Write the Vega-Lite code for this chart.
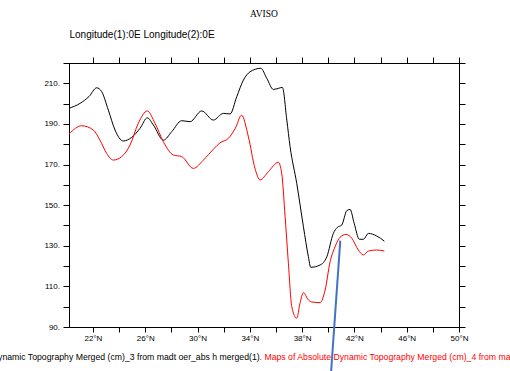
{
  "$schema": "https://vega.github.io/schema/vega-lite/v6.json",
  "width": 390,
  "height": 264,
  "autosize": "none",
  "padding": {"left": 69, "top": 63, "right": 51, "bottom": 44},
  "background": "white",
  "title": {
    "text": "AVISO",
    "font": "Liberation Serif",
    "fontSize": 9.5,
    "fontWeight": "normal",
    "color": "black",
    "anchor": "middle",
    "offset": 11
  },
  "config": {
    "view": {"stroke": "black", "strokeWidth": 1},
    "axis": {
      "grid": false,
      "domainColor": "black",
      "domainWidth": 1,
      "tickColor": "black",
      "tickWidth": 1,
      "labelColor": "black",
      "labelFont": "Liberation Sans",
      "labelFontSize": 8,
      "labelOverlap": false,
      "labelFlush": false,
      "titleColor": "black"
    }
  },
  "datasets": {
    "profiles": [
      {"series": "madt_3", "lat": 20.17, "adt": 197.7},
      {"series": "madt_3", "lat": 21.01, "adt": 200.1},
      {"series": "madt_3", "lat": 21.7, "adt": 203.5},
      {"series": "madt_3", "lat": 22.29, "adt": 207.8},
      {"series": "madt_3", "lat": 22.67, "adt": 205.9},
      {"series": "madt_3", "lat": 23.18, "adt": 196.8},
      {"series": "madt_3", "lat": 23.69, "adt": 187.0},
      {"series": "madt_3", "lat": 24.32, "adt": 181.6},
      {"series": "madt_3", "lat": 24.97, "adt": 183.4},
      {"series": "madt_3", "lat": 25.6, "adt": 187.8},
      {"series": "madt_3", "lat": 26.16, "adt": 193.0},
      {"series": "madt_3", "lat": 26.62, "adt": 189.5},
      {"series": "madt_3", "lat": 27.39, "adt": 182.0},
      {"series": "madt_3", "lat": 28.03, "adt": 186.2},
      {"series": "madt_3", "lat": 28.79, "adt": 191.6},
      {"series": "madt_3", "lat": 29.43, "adt": 191.1},
      {"series": "madt_3", "lat": 30.32, "adt": 196.4},
      {"series": "madt_3", "lat": 31.21, "adt": 191.9},
      {"series": "madt_3", "lat": 31.98, "adt": 195.2},
      {"series": "madt_3", "lat": 32.49, "adt": 194.9},
      {"series": "madt_3", "lat": 33.0, "adt": 203.4},
      {"series": "madt_3", "lat": 33.51, "adt": 211.6},
      {"series": "madt_3", "lat": 34.02, "adt": 215.7},
      {"series": "madt_3", "lat": 34.84, "adt": 217.4},
      {"series": "madt_3", "lat": 35.3, "adt": 212.4},
      {"series": "madt_3", "lat": 35.8, "adt": 207.0},
      {"series": "madt_3", "lat": 36.18, "adt": 207.5},
      {"series": "madt_3", "lat": 36.49, "adt": 208.0},
      {"series": "madt_3", "lat": 36.83, "adt": 191.9},
      {"series": "madt_3", "lat": 37.08, "adt": 178.8},
      {"series": "madt_3", "lat": 37.59, "adt": 160.7},
      {"series": "madt_3", "lat": 38.1, "adt": 139.4},
      {"series": "madt_3", "lat": 38.48, "adt": 124.6},
      {"series": "madt_3", "lat": 38.66, "adt": 119.4},
      {"series": "madt_3", "lat": 39.37, "adt": 120.5},
      {"series": "madt_3", "lat": 39.89, "adt": 124.6},
      {"series": "madt_3", "lat": 40.39, "adt": 136.1},
      {"series": "madt_3", "lat": 40.7, "adt": 139.1},
      {"series": "madt_3", "lat": 41.03, "adt": 140.2},
      {"series": "madt_3", "lat": 41.42, "adt": 147.3},
      {"series": "madt_3", "lat": 41.67, "adt": 147.9},
      {"series": "madt_3", "lat": 41.98, "adt": 141.1},
      {"series": "madt_3", "lat": 42.38, "adt": 133.2},
      {"series": "madt_3", "lat": 42.69, "adt": 133.2},
      {"series": "madt_3", "lat": 43.07, "adt": 136.1},
      {"series": "madt_3", "lat": 43.71, "adt": 134.8},
      {"series": "madt_3", "lat": 44.29, "adt": 132.3},

      {"series": "madt_4", "lat": 20.17, "adt": 185.0},
      {"series": "madt_4", "lat": 21.14, "adt": 189.1},
      {"series": "madt_4", "lat": 22.03, "adt": 187.0},
      {"series": "madt_4", "lat": 22.54, "adt": 182.0},
      {"series": "madt_4", "lat": 23.05, "adt": 175.5},
      {"series": "madt_4", "lat": 23.56, "adt": 172.2},
      {"series": "madt_4", "lat": 24.2, "adt": 173.9},
      {"series": "madt_4", "lat": 24.84, "adt": 179.6},
      {"series": "madt_4", "lat": 25.47, "adt": 190.3},
      {"series": "madt_4", "lat": 26.16, "adt": 196.4},
      {"series": "madt_4", "lat": 26.75, "adt": 190.3},
      {"series": "madt_4", "lat": 27.39, "adt": 181.2},
      {"series": "madt_4", "lat": 28.15, "adt": 174.7},
      {"series": "madt_4", "lat": 28.79, "adt": 173.9},
      {"series": "madt_4", "lat": 29.68, "adt": 168.1},
      {"series": "madt_4", "lat": 30.45, "adt": 172.2},
      {"series": "madt_4", "lat": 31.21, "adt": 177.5},
      {"series": "madt_4", "lat": 31.72, "adt": 180.7},
      {"series": "madt_4", "lat": 32.36, "adt": 182.9},
      {"series": "madt_4", "lat": 32.9, "adt": 188.0},
      {"series": "madt_4", "lat": 33.37, "adt": 194.3},
      {"series": "madt_4", "lat": 33.89, "adt": 183.7},
      {"series": "madt_4", "lat": 34.4, "adt": 168.0},
      {"series": "madt_4", "lat": 34.78, "adt": 162.4},
      {"series": "madt_4", "lat": 35.42, "adt": 166.5},
      {"series": "madt_4", "lat": 36.18, "adt": 171.1},
      {"series": "madt_4", "lat": 36.44, "adt": 165.7},
      {"series": "madt_4", "lat": 36.7, "adt": 144.3},
      {"series": "madt_4", "lat": 36.95, "adt": 121.4},
      {"series": "madt_4", "lat": 37.21, "adt": 100.0},
      {"series": "madt_4", "lat": 37.59, "adt": 94.3},
      {"series": "madt_4", "lat": 37.84, "adt": 101.7},
      {"series": "madt_4", "lat": 38.1, "adt": 106.9},
      {"series": "madt_4", "lat": 38.48, "adt": 103.3},
      {"series": "madt_4", "lat": 38.74, "adt": 102.3},
      {"series": "madt_4", "lat": 39.37, "adt": 102.0},
      {"series": "madt_4", "lat": 39.76, "adt": 108.2},
      {"series": "madt_4", "lat": 40.14, "adt": 122.1},
      {"series": "madt_4", "lat": 40.52, "adt": 129.5},
      {"series": "madt_4", "lat": 40.9, "adt": 134.2},
      {"series": "madt_4", "lat": 41.36, "adt": 135.6},
      {"series": "madt_4", "lat": 41.8, "adt": 133.7},
      {"series": "madt_4", "lat": 42.3, "adt": 127.9},
      {"series": "madt_4", "lat": 42.69, "adt": 125.5},
      {"series": "madt_4", "lat": 43.07, "adt": 127.4},
      {"series": "madt_4", "lat": 43.71, "adt": 127.9},
      {"series": "madt_4", "lat": 44.29, "adt": 127.4}
    ],
    "annotation": [{}]
  },
  "layer": [
    {
      "data": {"name": "profiles"},
      "transform": [{"filter": "datum.series == 'madt_3'"}],
      "mark": {"type": "line", "color": "black", "strokeWidth": 1, "interpolate": "monotone"},
      "encoding": {
        "x": {
          "field": "lat",
          "type": "quantitative",
          "scale": {"domain": [20.17, 50], "nice": false, "zero": false},
          "axis": {
            "orient": "bottom",
            "title": null,
            "values": [22, 24, 26, 28, 30, 32, 34, 36, 38, 40, 42, 44, 46, 48, 50],
            "labelExpr": "(datum.value - 22) % 4 == 0 ? datum.value + '°N' : ''",
            "tickSize": 5,
            "labelPadding": 2
          }
        },
        "y": {
          "field": "adt",
          "type": "quantitative",
          "scale": {"domain": [90, 220], "nice": false, "zero": false},
          "axis": {
            "orient": "left",
            "title": null,
            "values": [90, 100, 110, 120, 130, 140, 150, 160, 170, 180, 190, 200, 210, 220],
            "labelExpr": "datum.value % 20 == 10 ? datum.value + '.' : ''",
            "tickSize": 6,
            "labelPadding": 3.5
          }
        }
      }
    },
    {
      "data": {"name": "profiles"},
      "transform": [{"filter": "datum.series == 'madt_4'"}],
      "mark": {"type": "line", "color": "#ff0000", "strokeWidth": 1, "interpolate": "monotone"},
      "encoding": {
        "x": {
          "field": "lat",
          "type": "quantitative",
          "axis": {
            "orient": "top",
            "values": [22, 24, 26, 28, 30, 32, 34, 36, 38, 40, 42, 44, 46, 48, 50],
            "labels": false,
            "tickSize": 6,
            "title": "Longitude(1):0E Longitude(2):0E",
            "titleFont": "Liberation Sans",
            "titleFontSize": 10,
            "titleFontWeight": "normal",
            "titleAnchor": "start",
            "titleAlign": "left",
            "titleBaseline": "middle",
            "titleX": 0,
            "titleY": -29
          }
        },
        "y": {
          "field": "adt",
          "type": "quantitative",
          "axis": {
            "orient": "right",
            "title": null,
            "values": [90, 100, 110, 120, 130, 140, 150, 160, 170, 180, 190, 200, 210, 220],
            "labels": false,
            "tickSize": 6
          }
        }
      }
    },
    {
      "data": {"name": "annotation"},
      "mark": {"type": "rule", "color": "#4472c4", "strokeWidth": 2, "clip": false},
      "encoding": {
        "x": {"datum": 40.92, "type": "quantitative", "axis": null},
        "y": {"datum": 132.5, "type": "quantitative", "axis": null},
        "x2": {"datum": 40.22},
        "y2": {"datum": 68.3}
      }
    },
    {
      "data": {"name": "annotation"},
      "mark": {"type": "text", "align": "right", "baseline": "middle", "font": "Liberation Sans", "fontSize": 8.7, "color": "black", "clip": false},
      "encoding": {
        "x": {"datum": 34.75, "type": "quantitative", "axis": null},
        "y": {"datum": 75.2, "type": "quantitative", "axis": null},
        "text": {"value": "Maps of Absolute Dynamic Topography Merged (cm)_3 from madt oer_abs h merged(1)"}
      }
    },
    {
      "data": {"name": "annotation"},
      "mark": {"type": "text", "align": "left", "baseline": "middle", "font": "Liberation Sans", "fontSize": 8.7, "color": "#ff0000", "clip": false},
      "encoding": {
        "x": {"datum": 34.75, "type": "quantitative", "axis": null},
        "y": {"datum": 75.2, "type": "quantitative", "axis": null},
        "text": {"value": ".   Maps of Absolute Dynamic Topography Merged (cm)_4 from madt oer_abs h merged(1)."}
      }
    }
  ],
  "resolve": {"axis": {"x": "independent", "y": "independent"}}
}
